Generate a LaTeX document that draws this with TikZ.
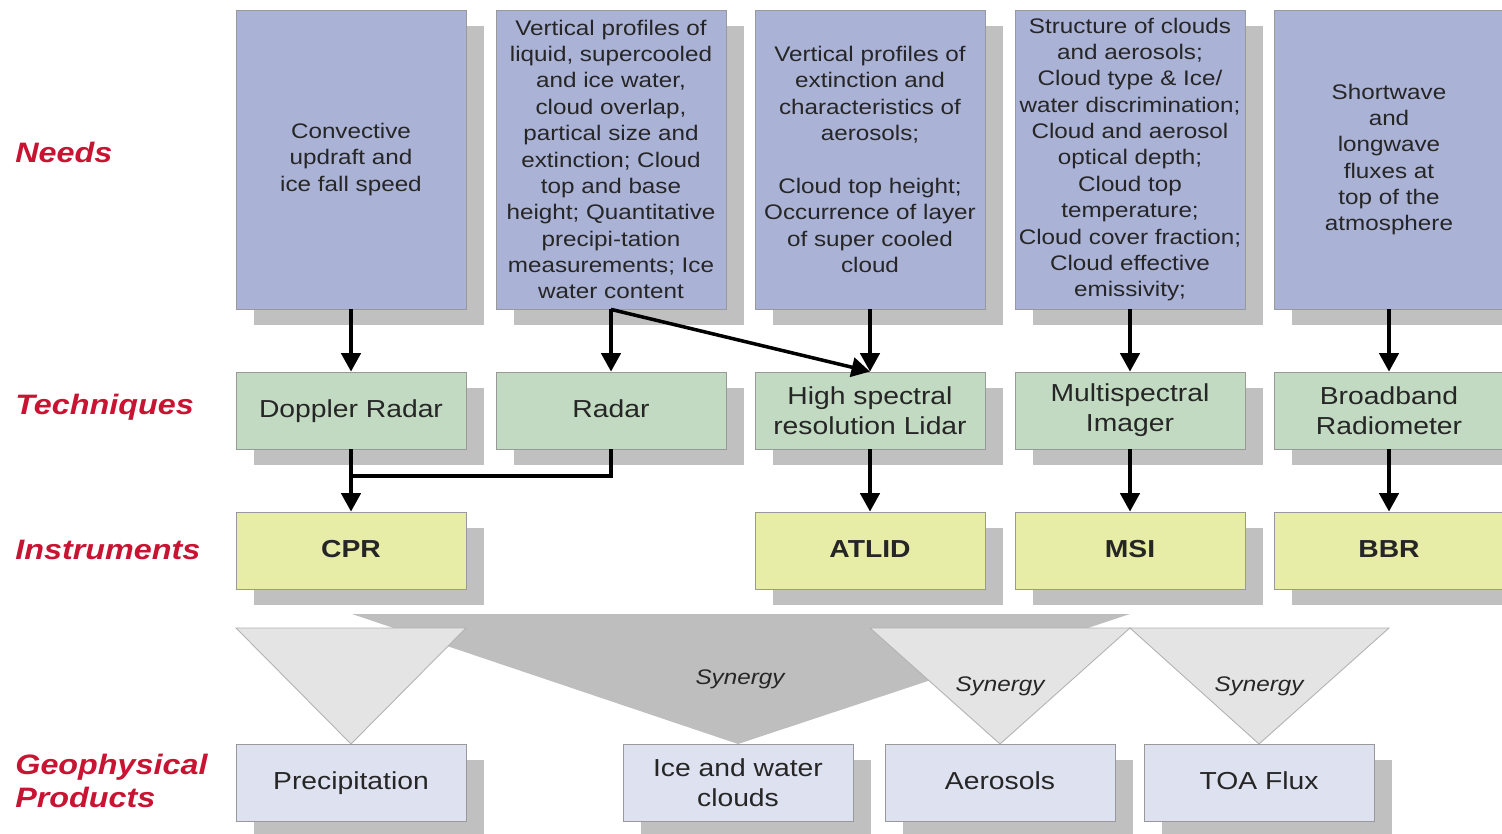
\documentclass[tikz,border=0pt]{standalone}
\usepackage{fontspec}
\setmainfont{Liberation Sans}[FakeStretch=1.15]
\usepackage{tikz}
\usetikzlibrary{shapes.geometric,shadows,arrows.meta,positioning}

\definecolor{needblue}{RGB}{170,178,214}
\definecolor{techgreen}{RGB}{193,218,193}
\definecolor{instyellow}{RGB}{231,236,166}
\definecolor{prodlilac}{RGB}{222,225,240}
\definecolor{shadowgray}{RGB}{192,192,192}
\definecolor{tridark}{RGB}{190,190,190}
\definecolor{trilight}{RGB}{228,228,228}
\definecolor{labelred}{RGB}{200,20,50}

\begin{document}
\begin{tikzpicture}[x=0.02cm,y=-0.02cm,
    box/.style={rectangle,draw=black!40,line width=0.5pt,minimum width=4.6cm,inner sep=2pt,
        text=black!85,align=center,
        drop shadow={shadow xshift=0.36cm,shadow yshift=-0.32cm,fill=shadowgray,opacity=1}},
    need/.style={box,fill=needblue,minimum height=5.98cm,font=\fontsize{12}{15}\selectfont},
    tech/.style={box,fill=techgreen,minimum height=1.54cm,font=\fontsize{14}{17}\selectfont},
    inst/.style={box,fill=instyellow,minimum height=1.54cm,font=\fontsize{14}{17}\selectfont\bfseries},
    prod/.style={box,fill=prodlilac,minimum height=1.54cm,font=\fontsize{14}{17}\selectfont},
    oneline/.style={text height=1.85ex,text depth=0.35ex},
    rowlabel/.style={anchor=west,align=left,inner sep=0pt,text=labelred,
        font=\fontsize{16}{18.7}\selectfont\bfseries\itshape},
    syn/.style={text=black!85,font=\fontsize{12}{14}\selectfont\itshape},
    arr/.style={line width=2pt,-{Triangle[length=10.5pt,width=11pt]}},
    link/.style={line width=2pt},
    tri/.style={draw=black!30,line width=0.5pt,fill=trilight}]

    \useasboundingbox (0,0) rectangle (1502,834);
    \clip (0,0) rectangle (1502,834);

    \node (lneeds) at (15,152) [rowlabel] {Needs};
    \node (ltech) at (15,407) [rowlabel] {Techniques};
    \node (linst) at (15,550) [rowlabel] {Instruments};
    \node (lprod) at (15,781) [rowlabel] {Geophysical\\Products};

    \node (need1) at (351,159.5) [need] {Convective\\updraft and\\ice fall speed};
    \node (need2) at (611,159.5) [need] {Vertical profiles of\\liquid, supercooled\\and ice water,\\cloud overlap,\\partical size and\\extinction; Cloud\\top and base\\height; Quantitative\\precipi-tation\\measurements; Ice\\water content};
    \node (need3) at (870,159.5) [need] {Vertical profiles of\\extinction and\\characteristics of\\aerosols;\\[15pt]Cloud top height;\\Occurrence of layer\\of super cooled\\cloud};
    \node (need4) at (1130,159.5) [need] {Structure of clouds\\and aerosols;\\Cloud type \& Ice/\\water discrimination;\\Cloud and aerosol\\optical depth;\\Cloud top\\temperature;\\Cloud cover fraction;\\Cloud effective\\emissivity;};
    \node (need5) at (1389,159.5) [need] {Shortwave\\and\\longwave\\fluxes at\\top of the\\atmosphere};

    \node (tech1) at (351,410.5) [tech,oneline] {Doppler Radar};
    \node (tech2) at (611,410.5) [tech,oneline] {Radar};
    \node (tech3) at (870,410.5) [tech] {High spectral\\resolution Lidar};
    \node (tech4) at (1130,410.5) [tech] {Multispectral\\Imager};
    \node (tech5) at (1389,410.5) [tech] {Broadband\\Radiometer};

    \node (inst1) at (351,550.5) [inst,oneline] {CPR};
    \node (inst3) at (870,550.5) [inst,oneline] {ATLID};
    \node (inst4) at (1130,550.5) [inst,oneline] {MSI};
    \node (inst5) at (1389,550.5) [inst,oneline] {BBR};

    \coordinate (prodtop1) at (351,744);
    \coordinate (prodtop2) at (738,744);
    \coordinate (prodtop3) at (1000,744);
    \coordinate (prodtop4) at (1259,744);

    \fill[tridark] (352,614) -- (1130,614) -- (prodtop2) -- cycle;
    \draw[tri] (236,628) -- (466,628) -- (prodtop1) -- cycle;
    \draw[tri] (870,628) -- (1130,628) -- (prodtop3) -- cycle;
    \draw[tri] (1130,628) -- (1389,628) -- (prodtop4) -- cycle;

    \node (syn1) at (740,679) [syn] {Synergy};
    \node (syn2) at (1000,686) [syn] {Synergy};
    \node (syn3) at (1259,686) [syn] {Synergy};

    \node (prod1) at (351,782.5) [prod,oneline] {Precipitation};
    \node (prod2) at (738,782.5) [prod] {Ice and water\\clouds};
    \node (prod3) at (1000,782.5) [prod,oneline] {Aerosols};
    \node (prod4) at (1259,782.5) [prod,oneline] {TOA Flux};

    \draw[arr] (need1) -- (tech1);
    \draw[arr] (need2) -- (tech2);
    \draw[arr] (need2.south) -- (tech3.north);
    \draw[arr] (need3) -- (tech3);
    \draw[arr] (need4) -- (tech4);
    \draw[arr] (need5) -- (tech5);

    \coordinate (join) at (351,476);
    \draw[link] (tech2.south) |- (join);
    \draw[arr] (tech1) -- (inst1);
    \draw[arr] (tech3) -- (inst3);
    \draw[arr] (tech4) -- (inst4);
    \draw[arr] (tech5) -- (inst5);
\end{tikzpicture}
\end{document}
